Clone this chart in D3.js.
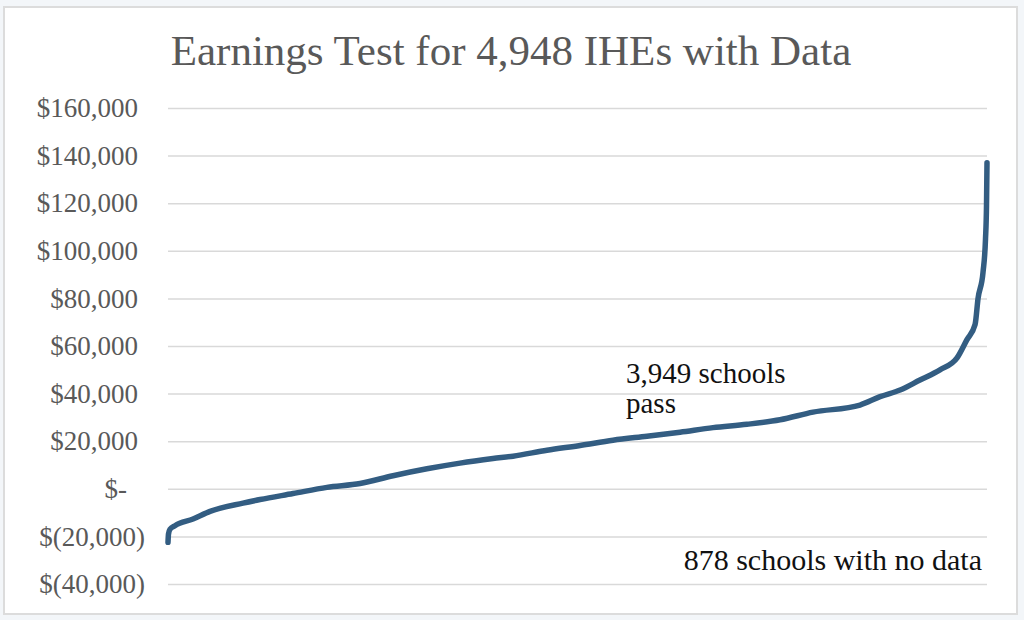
<!DOCTYPE html>
<html>
<head>
<meta charset="utf-8">
<script src="https://cdn.jsdelivr.net/npm/d3@7"></script>
<style>
  html, body { margin: 0; padding: 0; background: #f3f6f9; }
  svg { display: block; }
</style>
</head>
<body>
<svg id="chart" width="1024" height="620"></svg>
<script>
// sorted earnings test results (rank of school -> earnings)
const schoolRank = [0, 3, 12, 42, 151, 254, 453, 556, 755, 960, 1160, 1359, 1564, 1764, 1963, 2084,
  2289, 2489, 2688, 2893, 3093, 3292, 3497, 3697, 3896, 4180, 4301, 4422, 4542, 4663, 4766, 4826,
  4875, 4893, 4923, 4938, 4944, 4947];
const earnings = [-22500, -19000, -17000, -15500, -12700, -9500, -6000, -4500, -2000, 600, 2200, 5500,
  8400, 10800, 12700, 13700, 16200, 18200, 20400, 22100, 23800, 25700, 27100, 29000, 32200, 35200,
  38700, 41500, 45700, 50000, 55000, 62700, 69000, 80000, 91000, 105000, 119000, 137000];
const yTicks = [-40000, -20000, 0, 20000, 40000, 60000, 80000, 100000, 120000, 140000, 160000];
const title = 'Earnings Test for 4,948 IHEs with Data';
const passNote = ['3,949 schools', 'pass'];
const noDataNote = '878 schools with no data';

const serif = '"Liberation Serif", "Times New Roman", serif';
const svg = d3.select('#chart');
const plotLeft = 168, plotRight = 987, plotTop = 108, plotBottom = 584;

// frame
svg.append('rect')
  .attr('x', 4).attr('y', 7)
  .attr('width', 1013).attr('height', 607)
  .attr('fill', '#fff')
  .attr('stroke', '#dcdcdc')
  .attr('stroke-width', 2);

const x = d3.scaleLinear().domain([0, 4947]).range([plotLeft, plotRight]);
const y = d3.scaleLinear().domain([-40000, 160000]).range([plotBottom, plotTop]);

// gridlines
svg.append('g')
  .attr('transform', `translate(${plotLeft},0)`)
  .call(d3.axisLeft(y).tickValues(yTicks).tickSize(-(plotRight - plotLeft)).tickFormat(''))
  .call(g => g.select('.domain').remove())
  .call(g => g.selectAll('line').attr('stroke', '#d9d9d9').attr('stroke-width', 1.5));

const num = d3.format(',');
const money = v => v === 0 ? '$-' : v < 0 ? '$(' + num(-v) + ')' : '$' + num(v);

// y labels, accounting style
svg.append('g')
  .attr('transform', 'translate(138,0)')
  .call(d3.axisLeft(y).tickValues(yTicks).tickSize(0).tickPadding(0).tickFormat(money))
  .call(g => g.select('.domain').remove())
  .call(g => g.selectAll('text')
    .attr('font-family', serif)
    .attr('font-size', 27)
    .attr('fill', '#595959')
    .attr('dx', d => d < 0 ? 7 : d === 0 ? -11 : 0));

// curve
const line = d3.line()
  .x((d, i) => x(schoolRank[i]))
  .y(d => y(d))
  .curve(d3.curveMonotoneX);

svg.append('path')
  .datum(earnings)
  .attr('d', line)
  .attr('fill', 'none')
  .attr('stroke', '#335d82')
  .attr('stroke-width', 5.5)
  .attr('stroke-linecap', 'round')
  .attr('stroke-linejoin', 'round');

// title
svg.append('text')
  .attr('x', 511).attr('y', 65)
  .attr('text-anchor', 'middle')
  .attr('font-family', serif)
  .attr('font-size', 43)
  .attr('fill', '#595959')
  .text(title);

// notes
svg.append('text')
  .attr('x', 626).attr('y', 383)
  .attr('font-family', serif)
  .attr('font-size', 29)
  .attr('fill', '#111')
  .selectAll('tspan')
  .data(passNote)
  .enter().append('tspan')
  .attr('x', 626)
  .attr('dy', (d, i) => i ? 30 : 0)
  .text(d => d);

svg.append('text')
  .attr('x', 982).attr('y', 570)
  .attr('text-anchor', 'end')
  .attr('font-family', serif)
  .attr('font-size', 30)
  .attr('fill', '#111')
  .text(noDataNote);
</script>
</body>
</html>
